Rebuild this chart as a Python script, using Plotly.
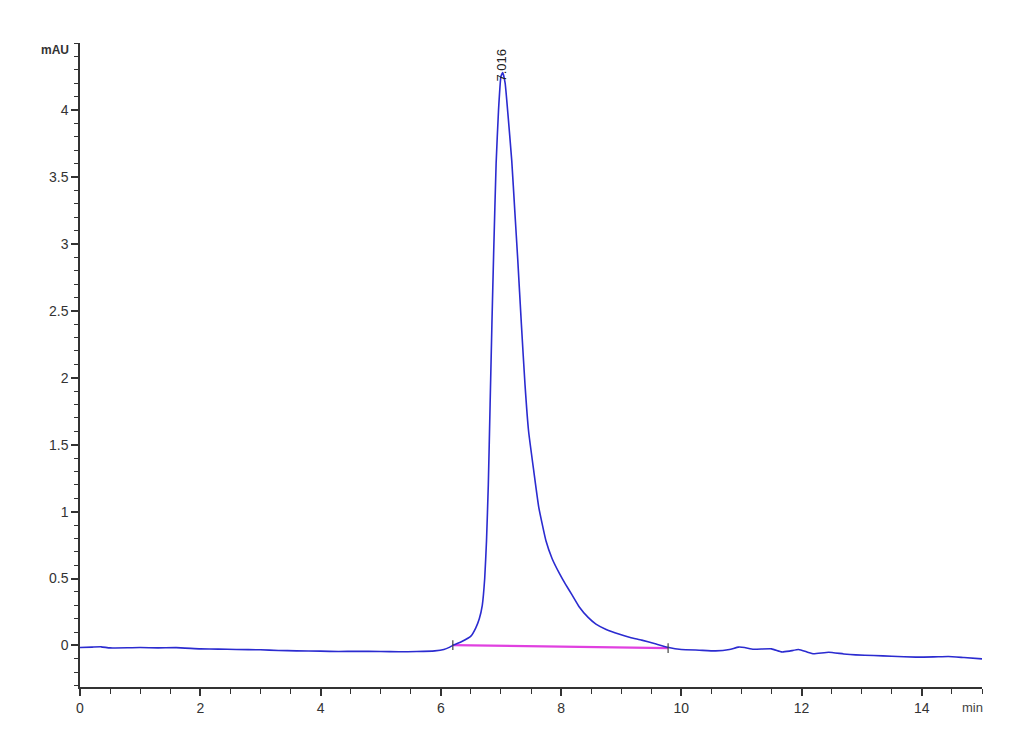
import plotly.graph_objects as go

# Chromatogram trace (retention time in min, absorbance in mAU)
time_min = [0.0, 0.2, 0.35, 0.5, 0.8, 1.0, 1.3, 1.6, 2.0, 2.3, 2.6, 3.0, 3.3, 3.6,
            4.0, 4.3, 4.6, 5.0, 5.3, 5.6, 5.9, 6.05, 6.15, 6.22, 6.35, 6.5, 6.58,
            6.64, 6.69, 6.73, 6.76, 6.79, 6.82, 6.85, 6.88, 6.92, 6.96, 7.0, 7.03,
            7.07, 7.12, 7.18, 7.23, 7.28, 7.34, 7.40, 7.46, 7.55, 7.63, 7.75, 7.85,
            7.97, 8.07, 8.18, 8.3, 8.45, 8.58, 8.75, 8.96, 9.15, 9.34, 9.55, 9.79, 10.0,
            10.3, 10.57, 10.8, 10.95, 11.05, 11.2, 11.5, 11.67, 11.8, 11.95, 12.1,
            12.2, 12.45, 12.7, 12.9, 13.2, 13.5, 13.9, 14.2, 14.44, 14.7, 15.0]
absorbance = [-0.015, -0.012, -0.010, -0.018, -0.017, -0.015, -0.018, -0.016, -0.025,
              -0.027, -0.030, -0.032, -0.037, -0.040, -0.042, -0.045, -0.043, -0.045,
              -0.047, -0.045, -0.040, -0.030, -0.012, 0.005, 0.03, 0.07, 0.13, 0.20,
              0.30, 0.50, 0.78, 1.2, 1.8, 2.4, 2.95, 3.6, 4.0, 4.25, 4.28, 4.2, 3.95,
              3.62, 3.25, 2.88, 2.4, 1.95, 1.6, 1.29, 1.03, 0.78, 0.65, 0.54, 0.46,
              0.38, 0.29, 0.21, 0.16, 0.12, 0.085, 0.06, 0.04, 0.015, -0.015, -0.03, -0.035,
              -0.04, -0.03, -0.012, -0.015, -0.028, -0.025, -0.048, -0.042, -0.03,
              -0.05, -0.062, -0.05, -0.063, -0.07, -0.075, -0.08, -0.087, -0.085,
              -0.082, -0.09, -0.10]

# Integration baseline of the peak
baseline_time = [6.2, 9.78]
baseline_abs = [0.003, -0.02]

# Peak annotation
peak_time = 7.016
peak_label = "7.016"
peak_label_y = 4.2

x_tickvals = [0, 2, 4, 6, 8, 10, 12, 14]
y_tickvals = [0, 0.5, 1, 1.5, 2, 2.5, 3, 3.5, 4]
y_ticktext = ["0", "0.5", "1", "1.5", "2", "2.5", "3", "3.5", "4"]

font_fam = "Liberation Sans Narrow, Arial Narrow, Liberation Sans, Arial, sans-serif"

fig = go.Figure()
fig.add_trace(go.Scatter(x=baseline_time, y=baseline_abs, mode="lines",
                         line=dict(color="#e040e0", width=2.2), hoverinfo="skip"))
fig.add_trace(go.Scatter(x=time_min, y=absorbance, mode="lines",
                         line=dict(color="#2b2bd0", width=1.6, shape="spline", smoothing=0.4)))
fig.add_trace(go.Scatter(x=baseline_time, y=baseline_abs, mode="markers",
                         marker=dict(symbol="line-ns-open", size=7, color="#444",
                                     line=dict(color="#444", width=1.2)),
                         hoverinfo="skip"))

fig.add_annotation(x=peak_time, y=peak_label_y, text=peak_label, textangle=-90,
                   showarrow=False, xanchor="center", yanchor="bottom",
                   font=dict(family="Liberation Sans, Arial, sans-serif", size=13, color="#222"))
fig.add_annotation(xref="paper", x=0, y=4.5, text="<b>mAU</b>", showarrow=False,
                   xanchor="right", yanchor="top", xshift=-9, yshift=2,
                   font=dict(family=font_fam, size=12, color="#333"))
fig.add_annotation(x=15, yref="paper", y=0, text="min", showarrow=False,
                   xanchor="right", yanchor="top", yshift=-11, xshift=3,
                   font=dict(family=font_fam, size=13, color="#444"))

fig.update_layout(
    width=1030, height=755,
    margin=dict(l=72, r=56, t=35, b=76),
    paper_bgcolor="white", plot_bgcolor="white",
    showlegend=False,
    font=dict(family=font_fam, size=14, color="#333"),
    xaxis=dict(range=[0, 15], tickvals=x_tickvals, showgrid=False, zeroline=False,
               showline=True, linecolor="#333", linewidth=1.5,
               ticks="outside", ticklen=7, tickcolor="#333", tickwidth=1.5,
               minor=dict(dtick=0.5, tick0=0, ticks="outside", ticklen=5,
                          tickcolor="#333", tickwidth=1.2, showgrid=False)),
    yaxis=dict(range=[-0.31, 4.5], tickvals=y_tickvals, ticktext=y_ticktext,
               showgrid=False, zeroline=False,
               showline=True, linecolor="#333", linewidth=1.5,
               ticks="outside", ticklen=7, tickcolor="#333", tickwidth=1.5,
               minor=dict(dtick=0.1, tick0=0, ticks="outside", ticklen=4,
                          tickcolor="#333", tickwidth=1.2, showgrid=False)),
)

fig.write_html("out.html")
